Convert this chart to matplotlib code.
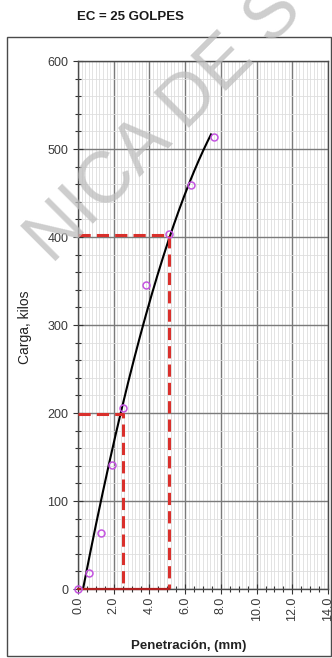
import numpy as np
import matplotlib
matplotlib.use("Agg")
import matplotlib.pyplot as plt
from matplotlib.ticker import MultipleLocator, FormatStrFormatter
from matplotlib.patches import Rectangle

plt.rcParams['font.family'] = ['Liberation Sans', 'DejaVu Sans']

# Lecturas del ensayo CBR (penetración en mm, carga en kilos)
penetracion = [0.0, 0.635, 1.27, 1.905, 2.54, 3.81, 5.08, 6.35, 7.62]
carga = [0, 18, 64, 141, 206, 346, 403, 459, 514]

# Curva corregida (puntos leídos sobre la curva trazada)
curva_x = [0.26, 1.43, 1.58, 2.37, 2.55, 3.67, 4.79, 5.07, 6.16, 6.85, 7.45]
curva_y = [0, 112, 124, 200, 215, 301, 374, 403, 459, 487, 518]

# Cargas corregidas a 2.54 mm y 5.08 mm
corr_x = [2.54, 5.08]
corr_y = [199, 402]

titulo = "EC = 25 GOLPES"
marca_agua = "NICA DE S"
x_ticks = [0, 2, 4, 6, 8, 10, 12, 14]
y_ticks = [0, 100, 200, 300, 400, 500, 600]

fig = plt.figure(figsize=(3.32, 6.58), dpi=100)
fig.patch.set_facecolor("white")

# Marco exterior
fig.patches.append(Rectangle((7 / 332, 2 / 658), 324 / 332, 619 / 658,
                             transform=fig.transFigure, fill=False,
                             edgecolor="#4a4a4a", linewidth=1.0))

ax = fig.add_axes([78 / 332, 1 - 589 / 658, 250 / 332, 528 / 658])
ax.set_xlim(0, 14)
ax.set_ylim(0, 600)

ax.xaxis.set_major_locator(MultipleLocator(2))
ax.xaxis.set_minor_locator(MultipleLocator(0.5))
ax.yaxis.set_major_locator(MultipleLocator(100))
ax.yaxis.set_minor_locator(MultipleLocator(20))
ax.set_xticks(x_ticks)
ax.set_yticks(y_ticks)
ax.xaxis.set_major_formatter(FormatStrFormatter("%.1f"))

# Cuadrícula fina
for xv in np.arange(0, 14.01, 0.2):
    ax.axvline(xv, color="#dedede", linewidth=0.6, zorder=0)
ax.grid(True, which="minor", axis="y", color="#dedede", linewidth=0.6, zorder=0)
ax.grid(True, which="major", color="#7a7a7a", linewidth=1.0, zorder=1)

ax.tick_params(axis="both", which="major", direction="inout", length=7,
               width=0.8, color="#333333", labelsize=9, labelcolor="#3a3a3a")
ax.tick_params(axis="both", which="minor", direction="inout", length=4,
               width=0.8, color="#333333")
ax.tick_params(axis="x", which="major", labelrotation=90, pad=2)

for s in ax.spines.values():
    s.set_color("#4a4a4a")
    s.set_linewidth(1.0)

# Curva ajustada
coef = np.polyfit(curva_x, curva_y, 2)
xs = np.linspace(curva_x[0], curva_x[-1], 200)
ax.plot(xs, np.polyval(coef, xs), color="black", linewidth=1.5, zorder=4)

# Líneas de lectura a 2.54 mm y 5.08 mm
for cx, cy in zip(corr_x, corr_y):
    ax.plot([0, cx, cx], [cy, cy, 0], color="#d9302c", linewidth=2.2,
            dashes=(4, 2), zorder=5, solid_capstyle="butt")
ax.plot([0, corr_x[-1]], [0, 0], color="#b02020", linewidth=1.6, zorder=5,
        clip_on=False)

# Puntos medidos
ax.plot(penetracion, carga, linestyle="none", marker="o", markersize=5,
        markerfacecolor="none", markeredgecolor="#c455e0",
        markeredgewidth=1.1, zorder=6, clip_on=False)

fig.text(130 / 332, 1 - 17 / 658, titulo, ha="center", va="center",
         fontsize=9.5, fontweight="bold", color="#1a1a1a")
fig.text(25 / 332, 1 - 327 / 658, "Carga, kilos", ha="center", va="center",
         rotation=90, fontsize=10, color="#222222")
fig.text(189 / 332, 1 - 646 / 658, "Penetración, (mm)", ha="center",
         va="center", fontsize=9.5, fontweight="bold", color="#222222")

# Marca de agua del documento
fig.text(165 / 332, 1 - 125 / 658, marca_agua, ha="center", va="center",
         rotation=45, fontsize=52, color="#bdbdbd", alpha=0.75, zorder=10)

fig.savefig("out.png", dpi=100)
